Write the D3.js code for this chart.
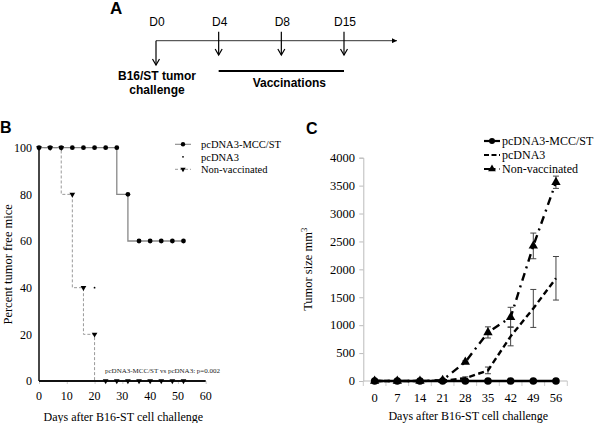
<!DOCTYPE html>
<html><head><meta charset="utf-8">
<script src="https://cdn.jsdelivr.net/npm/d3@7"></script>
<style>body{margin:0;background:#fff}svg{display:block}</style>
</head><body>
<svg id="c" width="600" height="423"></svg>
<script>
// ---------- Panel A data ----------
const eventsA = ["D0","D4","D8","D15"];
const challengeLabel = ["B16/ST tumor","challenge"];
const vaccLabel = "Vaccinations";
// ---------- Panel B data ----------
const daysB = [0,4,8,12,16,20,24,28,32,36,40,44,48,52];
const mccB = [100,100,100,100,100,100,100,100,80,60,60,60,60,60];
const pcdna3B = [100,100,100,100,100,40,0,0,0,0,0,0,0,0];
const nonvacB = [100,100,100,80,40,20,0,0,0,0,0,0,0,0];
const ticksBx = [0,10,20,30,40,50,60];
const ticksBy = [0,20,40,60,80,100];
const seriesNames = ["pcDNA3-MCC/ST","pcDNA3","Non-vaccinated"];
const pText = "pcDNA3-MCC/ST vs pcDNA3: p=0.002";
// ---------- Panel C data ----------
const daysC = ["0","7","14","21","28","35","42","49","56"];
const mccC = [0,0,0,0,0,0,0,0,0];
const pcdna3C = [0,0,0,5,50,190,800,1300,1840];
const pcdna3Err = [0,0,0,0,25,60,170,340,390];
const nonvacC = [0,0,0,15,340,870,1140,2420,3560];
const nonvacErr = [0,0,0,0,20,100,180,230,110];
const ticksCy = [0,500,1000,1500,2000,2500,3000,3500,4000];

const svg = d3.select("#c");
const serif = "'Liberation Serif','Times New Roman',serif";
const sans = "'Liberation Sans',Arial,sans-serif";

// ===== Panel A =====
const gA = svg.append("g");
gA.append("text").attr("x",110).attr("y",14).attr("font-family",sans).attr("font-weight","bold").attr("font-size",17).text("A");
const xA = d3.scalePoint().domain(eventsA).range([156,344]);
const defs = svg.append("defs");
defs.append("marker").attr("id","ah").attr("viewBox","0 0 10 10").attr("refX",10).attr("refY",5)
  .attr("markerWidth",5).attr("markerHeight",5).attr("orient","auto")
  .append("path").attr("d","M0,0L10,5L0,10Z").attr("fill","#000");
gA.append("line").attr("x1",xA("D0")).attr("x2",397).attr("y1",40.7).attr("y2",40.7)
  .attr("stroke","#333").attr("stroke-width",1).attr("marker-end","url(#ah)");
function downArrow(x,y1,y2){
  gA.append("line").attr("x1",x).attr("x2",x).attr("y1",y1).attr("y2",y2).attr("stroke","#000").attr("stroke-width",1.2);
  gA.append("path").attr("d",`M${x-3.5},${y2-6}L${x},${y2}L${x+3.5},${y2-6}`).attr("fill","none").attr("stroke","#000").attr("stroke-width",1.2);
}
eventsA.forEach((e,i)=>{
  const x = xA(e);
  gA.append("text").attr("x",x+1).attr("y",26).attr("text-anchor","middle").attr("font-family",sans).attr("font-size",12).text(e);
  if(i===0) downArrow(x,40.7,65); else downArrow(x,31.7,55);
});
gA.append("line").attr("x1",xA("D4")).attr("x2",xA("D15")).attr("y1",71).attr("y2",71).attr("stroke","#000").attr("stroke-width",1.8);
gA.append("text").attr("x",(xA("D4")+xA("D15"))/2+8).attr("y",87).attr("text-anchor","middle")
  .attr("font-family",sans).attr("font-weight","bold").attr("font-size",12).text(vaccLabel);
challengeLabel.forEach((t,i)=>{
  gA.append("text").attr("x",xA("D0")+1).attr("y",80+i*13.5).attr("text-anchor","middle")
    .attr("font-family",sans).attr("font-weight","bold").attr("font-size",12).text(t);
});

// ===== Panel B =====
const gB = svg.append("g");
gB.append("text").attr("x",0).attr("y",133).attr("font-family",sans).attr("font-weight","bold").attr("font-size",16).text("B");
const xB = d3.scaleLinear().domain([0,60]).range([39,205.7]);
const yB = d3.scaleLinear().domain([0,100]).range([381,147.7]);
gB.append("g").attr("transform","translate(0,381)")
  .call(d3.axisBottom(xB).tickValues(ticksBx).tickSize(3).tickFormat(""))
  .call(g=>{g.select(".domain").remove();g.selectAll("line").attr("stroke","#ccc");});
gB.selectAll(".bxl").data(ticksBx).enter().append("text").attr("x",d=>xB(d)).attr("y",400)
  .attr("text-anchor","middle").attr("font-family",serif).attr("font-size",12).text(d=>d);
gB.selectAll(".byl").data(ticksBy).enter().append("text").attr("x",32).attr("y",d=>yB(d)+4.3)
  .attr("text-anchor","end").attr("font-family",serif).attr("font-size",12).text(d=>d);
const lineB = d3.line().x((d,i)=>xB(daysB[i])).y(d=>yB(d)).curve(d3.curveStepBefore);
gB.append("path").attr("d",lineB(nonvacB)).attr("fill","none").attr("stroke","#999").attr("stroke-width",1).attr("stroke-dasharray","3,2");
gB.append("path").attr("d",lineB(mccB)).attr("fill","none").attr("stroke","#888").attr("stroke-width",1.3);
gB.append("line").attr("x1",xB(0)).attr("x2",xB(0)).attr("y1",yB(100)).attr("y2",yB(0)).attr("stroke","#333").attr("stroke-width",1.8);
gB.append("line").attr("x1",xB(0)).attr("x2",xB(60)).attr("y1",yB(0)).attr("y2",yB(0)).attr("stroke","#111").attr("stroke-width",1.8);
const triDown = d3.symbol().type(d3.symbolTriangle).size(14);
gB.selectAll(".nvm").data(nonvacB).enter().append("path")
  .attr("d",triDown).attr("transform",(d,i)=>`translate(${xB(daysB[i])},${yB(d)}) rotate(180)`).attr("fill","#000");
gB.selectAll(".pcm").data(pcdna3B).enter().append("circle")
  .attr("cx",(d,i)=>xB(daysB[i])).attr("cy",d=>yB(d)).attr("r",0.9).attr("fill","#000");
gB.selectAll(".mcm").data(mccB).enter().append("circle")
  .attr("cx",(d,i)=>xB(daysB[i])).attr("cy",d=>yB(d)).attr("r",2.4).attr("fill","#000");
gB.append("text").attr("x",105).attr("y",373).attr("font-family",serif).attr("font-size",7).attr("fill","#222").text(pText);
gB.append("text").attr("x",xB(30)+1).attr("y",421).attr("text-anchor","middle").attr("font-family",serif).attr("font-size",12).text("Days after B16-ST cell challenge");
gB.append("text").attr("transform",`translate(12,${yB(50)}) rotate(-90)`).attr("text-anchor","middle").attr("font-family",serif).attr("font-size",12.5).text("Percent tumor free mice");
const legB = gB.append("g");
seriesNames.forEach((n,i)=>{
  const y = 144.3 + i*12.5;
  if(i===0) legB.append("line").attr("x1",175).attr("x2",191).attr("y1",y).attr("y2",y).attr("stroke","#888").attr("stroke-width",1.1);
  if(i===2) legB.append("line").attr("x1",175).attr("x2",191).attr("y1",y).attr("y2",y).attr("stroke","#999").attr("stroke-width",1).attr("stroke-dasharray","3,2");
  if(i===0) legB.append("circle").attr("cx",183).attr("cy",y).attr("r",2.2).attr("fill","#000");
  if(i===1) legB.append("circle").attr("cx",183).attr("cy",y).attr("r",0.9).attr("fill","#000");
  if(i===2) legB.append("path").attr("d",d3.symbol().type(d3.symbolTriangle).size(12)).attr("transform",`translate(183,${y}) rotate(180)`).attr("fill","#000");
  legB.append("text").attr("x",201).attr("y",y+3.8).attr("font-family",serif).attr("font-size",10.5).text(n);
});

// ===== Panel C =====
const gC = svg.append("g");
gC.append("text").attr("x",306).attr("y",134).attr("font-family",sans).attr("font-weight","bold").attr("font-size",16).text("C");
const xC = d3.scaleBand().domain(daysC).range([363.3,567.3]);
const cx = d => xC(d)+xC.bandwidth()/2;
const yC = d3.scaleLinear().domain([0,4000]).range([381,157.7]);
gC.append("g").attr("transform","translate(363.3,0)")
  .call(d3.axisLeft(yC).tickValues(ticksCy).tickSize(4).tickFormat(""))
  .call(g=>{g.select(".domain").attr("stroke","#bbb");g.selectAll("line").attr("stroke","#bbb");});
gC.selectAll(".cyl").data(ticksCy).enter().append("text").attr("x",355).attr("y",d=>yC(d)+4.3)
  .attr("text-anchor","end").attr("font-family",serif).attr("font-size",12.5).text(d=>d);
gC.append("line").attr("x1",363.3).attr("x2",567.3).attr("y1",yC(0)).attr("y2",yC(0)).attr("stroke","#bbb");
gC.selectAll(".cxt").data(daysC.concat([null])).enter().append("line")
  .attr("x1",d=>d===null? xC.range()[1] : xC(d)).attr("x2",d=>d===null? xC.range()[1] : xC(d))
  .attr("y1",yC(0)).attr("y2",yC(0)+5).attr("stroke","#ccc");
gC.selectAll(".cxl").data(daysC).enter().append("text").attr("x",d=>cx(d)).attr("y",402)
  .attr("text-anchor","middle").attr("font-family",serif).attr("font-size",12.5).text(d=>d);
function errBars(vals, errs){
  vals.forEach((v,i)=>{
    if(!errs[i]) return;
    const x = cx(daysC[i]);
    const g = gC.append("g").attr("stroke","#444").attr("stroke-width",1);
    g.append("line").attr("x1",x).attr("x2",x).attr("y1",yC(v-errs[i])).attr("y2",yC(v+errs[i]));
    g.append("line").attr("x1",x-3).attr("x2",x+3).attr("y1",yC(v-errs[i])).attr("y2",yC(v-errs[i]));
    g.append("line").attr("x1",x-3).attr("x2",x+3).attr("y1",yC(v+errs[i])).attr("y2",yC(v+errs[i]));
  });
}
errBars(pcdna3C,pcdna3Err);
errBars(nonvacC,nonvacErr);
const lineC = d3.line().x((d,i)=>cx(daysC[i])).y(d=>yC(d));
gC.append("path").attr("d",lineC(nonvacC)).attr("fill","none").attr("stroke","#000").attr("stroke-width",2.4).attr("stroke-dasharray","8,5,2,5");
gC.append("path").attr("d",lineC(pcdna3C)).attr("fill","none").attr("stroke","#000").attr("stroke-width",2.4).attr("stroke-dasharray","6,3.5");
gC.append("path").attr("d",lineC(mccC)).attr("fill","none").attr("stroke","#000").attr("stroke-width",2.4);
const triUp = d3.symbol().type(d3.symbolTriangle).size(38);
gC.selectAll(".nvc").data(nonvacC).enter().append("path").attr("d",triUp)
  .attr("transform",(d,i)=>`translate(${cx(daysC[i])},${yC(d)})`).attr("fill","#000");
gC.selectAll(".mcc").data(mccC).enter().append("circle")
  .attr("cx",(d,i)=>cx(daysC[i])).attr("cy",d=>yC(d)).attr("r",3.8).attr("fill","#000");
gC.append("text").attr("x",(xC.range()[0]+xC.range()[1])/2+3).attr("y",420).attr("text-anchor","middle").attr("font-family",serif).attr("font-size",12).text("Days after B16-ST cell challenge");
const yt = gC.append("text").attr("transform",`translate(312,${yC(2000)}) rotate(-90)`).attr("text-anchor","middle").attr("font-family",serif).attr("font-size",12.5);
yt.append("tspan").text("Tumor size mm");
yt.append("tspan").attr("font-size",8.5).attr("dy",-5).text("3");
const legC = gC.append("g");
seriesNames.forEach((n,i)=>{
  const y = 141 + i*14;
  const dash = i===0? null : (i===1? "5,2.5" : "6,4,1.5,4");
  legC.append("line").attr("x1",484).attr("x2",500).attr("y1",y).attr("y2",y).attr("stroke","#000").attr("stroke-width",2.2).attr("stroke-dasharray",dash);
  if(i===0) legC.append("circle").attr("cx",492).attr("cy",y).attr("r",3).attr("fill","#000");
  if(i===2) legC.append("path").attr("d",d3.symbol().type(d3.symbolTriangle).size(26)).attr("transform",`translate(492,${y})`).attr("fill","#000");
  legC.append("text").attr("x",502).attr("y",y+4.3).attr("font-family",serif).attr("font-size",12).text(n);
});
</script>
</body></html>
